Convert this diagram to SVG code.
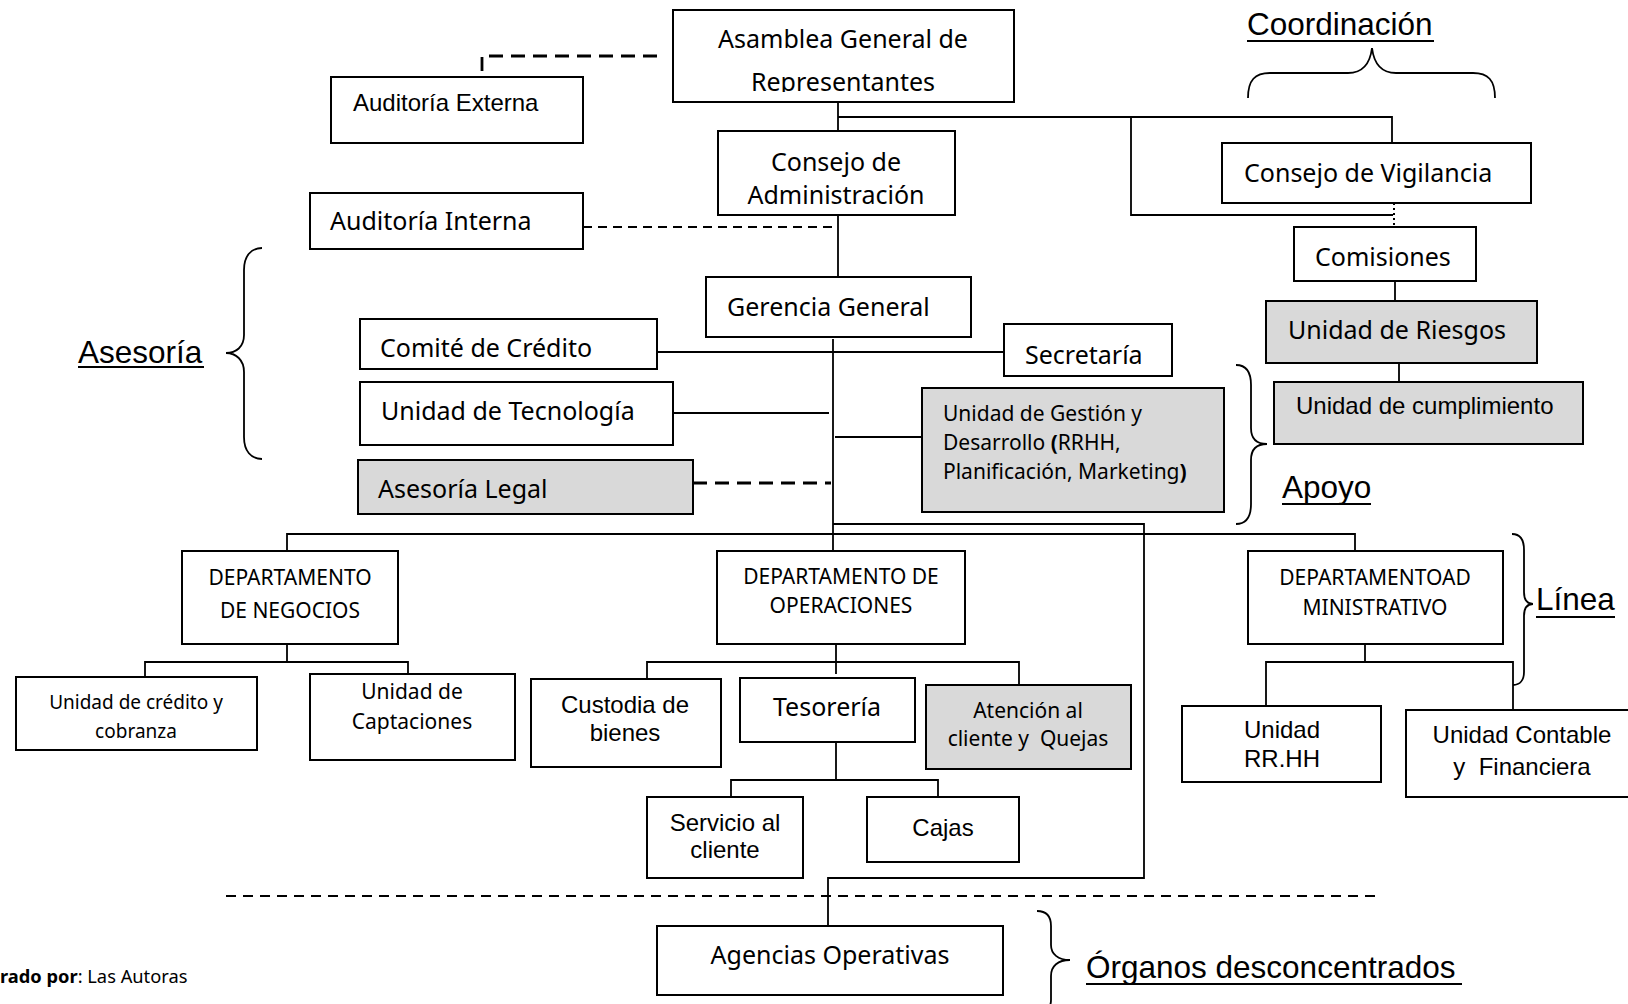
<svg xmlns="http://www.w3.org/2000/svg" width="1628" height="1004" viewBox="0 0 1628 1004">
<style>
.box{fill:#fff;stroke:#000;stroke-width:2}
.gray{fill:#d9d9d9;stroke:#000;stroke-width:2}
.c{font-family:'Noto Sans','Open Sans',sans-serif;font-size:25px;fill:#000}
.c21{font-family:'Noto Sans','Open Sans',sans-serif;font-size:21px;fill:#000}
.c19{font-family:'Noto Sans','Open Sans',sans-serif;font-size:19px;fill:#000}
.a{font-family:'Liberation Sans',Arial,sans-serif;font-size:24px;fill:#000}
.lbl{font-family:'Liberation Sans',Arial,sans-serif;font-size:31.5px;fill:#000}
.mid{text-anchor:middle}
.pre{white-space:pre}
.ln{fill:none;stroke:#000;stroke-width:1.8}
.dash1{fill:none;stroke:#000;stroke-width:2.8;stroke-dasharray:14 8}
.dash2{fill:none;stroke:#000;stroke-width:1.8;stroke-dasharray:9 6}
.dash3{fill:none;stroke:#000;stroke-width:2;stroke-dasharray:10 7}
.dot{fill:none;stroke:#000;stroke-width:2;stroke-dasharray:2 3}
.ul{stroke:#000;stroke-width:2}
.brace{fill:none;stroke:#000;stroke-width:1.8}
</style>
<defs>
<clipPath id="clipAsamblea"><rect x="673" y="10" width="341" height="82"/></clipPath>
</defs>
<rect width="1628" height="1004" fill="#fff"/>

<g id="connectors">
<path class="dash1" d="M482,71 V56 H661"/>
<path class="ln" d="M838,102 V131"/>
<path class="ln" d="M838,117 H1392 V143"/>
<path class="ln" d="M1131,117 V215 H1393"/>
<path class="dot" d="M1394,203 V227"/>
<path class="ln" d="M838,215 V277"/>
<path class="dash2" d="M583,227 H838"/>
<path class="ln" d="M833,339 V551"/>
<path class="ln" d="M657,352 H1004"/>
<path class="ln" d="M673,413 H829"/>
<path class="dash1" d="M693,483 H831"/>
<path class="ln" d="M835,437 H922"/>
<path class="ln" d="M833,524 H1144 V878 H828 V926"/>
<path class="ln" d="M287,551 V534 H1355 V551"/>
<path class="ln" d="M287,643 V662"/>
<path class="ln" d="M145,677 V662 H408 V674"/>
<path class="ln" d="M836,644 V674"/>
<path class="ln" d="M647,679 V662 H1019 V685"/>
<path class="ln" d="M836,742 V780"/>
<path class="ln" d="M731,797 V780 H938 V797"/>
<path class="ln" d="M1365,644 V662"/>
<path class="ln" d="M1266,706 V662 H1513 V710"/>
<path class="ln" d="M1395,281 V301"/>
<path class="ln" d="M1399,363 V382"/>
<path class="dash3" d="M226,896 H1381"/>
</g>

<g id="asamblea">
<rect class="box" x="673" y="10" width="341" height="92"/>
<g clip-path="url(#clipAsamblea)">
<text class="c mid" x="843" y="48">Asamblea General de</text>
<text class="c mid" x="843" y="91">Representantes</text>
</g>
</g>
<g id="auditoria-externa">
<rect class="box" x="331" y="77" width="252" height="66"/>
<text class="a" x="353" y="111">Auditoría Externa</text>
</g>
<g id="consejo-administracion">
<rect class="box" x="718" y="131" width="237" height="84"/>
<text class="c mid" x="836" y="171">Consejo de</text>
<text class="c mid" x="836" y="204">Administración</text>
</g>
<g id="auditoria-interna">
<rect class="box" x="310" y="193" width="273" height="56"/>
<text class="c" x="330" y="230">Auditoría Interna</text>
</g>
<g id="consejo-vigilancia">
<rect class="box" x="1222" y="143" width="309" height="60"/>
<text class="c" x="1244" y="182">Consejo de Vigilancia</text>
</g>
<g id="comisiones">
<rect class="box" x="1294" y="227" width="182" height="54"/>
<text class="c" x="1315" y="266">Comisiones</text>
</g>
<g id="unidad-riesgos">
<rect class="gray" x="1266" y="301" width="271" height="62"/>
<text class="c" x="1288" y="339">Unidad de Riesgos</text>
</g>
<g id="unidad-cumplimiento">
<rect class="gray" x="1274" y="382" width="309" height="62"/>
<text class="a" x="1296" y="414">Unidad de cumplimiento</text>
</g>
<g id="gerencia-general">
<rect class="box" x="706" y="277" width="265" height="60"/>
<text class="c" x="727" y="316">Gerencia General</text>
</g>
<g id="comite-credito">
<rect class="box" x="360" y="319" width="297" height="50"/>
<text class="c" x="380" y="357">Comité de Crédito</text>
</g>
<g id="secretaria">
<rect class="box" x="1004" y="324" width="168" height="52"/>
<text class="c" x="1025" y="364">Secretaría</text>
</g>
<g id="unidad-tecnologia">
<rect class="box" x="360" y="382" width="313" height="63"/>
<text class="c" x="381" y="420">Unidad de Tecnología</text>
</g>
<g id="asesoria-legal">
<rect class="gray" x="358" y="460" width="335" height="54"/>
<text class="c" x="378" y="498">Asesoría Legal</text>
</g>
<g id="unidad-gestion">
<rect class="gray" x="922" y="388" width="302" height="124"/>
<text class="c21" x="943" y="421">Unidad de Gestión y</text>
<text class="c21" x="943" y="450">Desarrollo <tspan font-weight="bold">(</tspan>RRHH,</text>
<text class="c21" x="943" y="479">Planificación, Marketing<tspan font-weight="bold">)</tspan></text>
</g>
<g id="dept-negocios">
<rect class="box" x="182" y="551" width="216" height="93"/>
<text class="c21 mid" x="290" y="585">DEPARTAMENTO</text>
<text class="c21 mid" x="290" y="618">DE NEGOCIOS</text>
</g>
<g id="unidad-credito">
<rect class="box" x="16" y="677" width="241" height="73"/>
<text class="c19 mid" x="136" y="709">Unidad de crédito y</text>
<text class="c19 mid" x="136" y="738">cobranza</text>
</g>
<g id="unidad-captaciones">
<rect class="box" x="310" y="674" width="205" height="86"/>
<text class="c21 mid" x="412" y="699">Unidad de</text>
<text class="c21 mid" x="412" y="729">Captaciones</text>
</g>
<g id="dept-operaciones">
<rect class="box" x="717" y="551" width="248" height="93"/>
<text class="c21 mid" x="841" y="584">DEPARTAMENTO DE</text>
<text class="c21 mid" x="841" y="613">OPERACIONES</text>
</g>
<g id="custodia">
<rect class="box" x="531" y="679" width="190" height="88"/>
<text class="a mid" x="625" y="713">Custodia de</text>
<text class="a mid" x="625" y="741">bienes</text>
</g>
<g id="tesoreria">
<rect class="box" x="740" y="678" width="175" height="64"/>
<text class="c mid" x="827" y="716">Tesorería</text>
</g>
<g id="atencion-cliente">
<rect class="gray" x="926" y="685" width="205" height="84"/>
<text class="c21 mid" x="1028" y="718">Atención al</text>
<text class="c21 mid pre" x="1028" y="746">cliente y  Quejas</text>
</g>
<g id="servicio-cliente">
<rect class="box" x="647" y="797" width="156" height="81"/>
<text class="a mid" x="725" y="831">Servicio al</text>
<text class="a mid" x="725" y="858">cliente</text>
</g>
<g id="cajas">
<rect class="box" x="867" y="797" width="152" height="65"/>
<text class="a mid" x="943" y="836">Cajas</text>
</g>
<g id="dept-administrativo">
<rect class="box" x="1248" y="551" width="255" height="93"/>
<text class="c21 mid" x="1375" y="585">DEPARTAMENTOAD</text>
<text class="c21 mid" x="1375" y="615">MINISTRATIVO</text>
</g>
<g id="unidad-rrhh">
<rect class="box" x="1182" y="706" width="199" height="76"/>
<text class="a mid" x="1282" y="738">Unidad</text>
<text class="a mid" x="1282" y="767">RR.HH</text>
</g>
<g id="unidad-contable">
<rect class="box" x="1406" y="710" width="240" height="87"/>
<text class="a mid" x="1522" y="743">Unidad Contable</text>
<text class="a mid pre" x="1522" y="775">y  Financiera</text>
</g>
<g id="agencias-operativas">
<rect class="box" x="657" y="926" width="346" height="69"/>
<text class="c mid" x="830" y="964">Agencias Operativas</text>
</g>

<g id="braces">
<path class="brace" d="M1248,98 C1248,80 1255,73 1270,73 H1348 C1362,73 1370,64 1372,48 C1374,64 1382,73 1396,73 H1473 C1488,73 1495,80 1495,98"/>
<path class="brace" d="M262,248 C251,248 244,256 244,270 V335 C244,347 236,353 226,353 C236,353 244,360 244,372 V437 C244,451 251,459 262,459"/>
<path class="brace" d="M1236,365 C1246,365 1251,372 1251,385 V428 C1251,438 1256,444 1267,444 C1256,444 1251,450 1251,460 V504 C1251,517 1246,524 1236,524"/>
<path class="brace" d="M1512,534 C1520,534 1524,540 1524,550 V592 C1524,600 1527,604 1533,604 C1527,604 1524,608 1524,616 V672 C1524,680 1520,685 1513,685"/>
<path class="brace" d="M1037,911 C1046,911 1051,916 1051,926 V945 C1051,954 1058,960 1070,960 C1058,960 1051,966 1051,976 V1000 C1051,1008 1046,1012 1037,1012"/>
</g>

<g id="labels">
<text class="lbl" x="1247" y="35">Coordinación</text>
<line class="ul" x1="1247" y1="41" x2="1434" y2="41"/>
<text class="lbl" x="78" y="363" font-size="32.5">Asesoría</text>
<line class="ul" x1="78" y1="367" x2="204" y2="367"/>
<text class="lbl" x="1282" y="498">Apoyo</text>
<line class="ul" x1="1282" y1="504" x2="1371" y2="504"/>
<text class="lbl" x="1536" y="610">Línea</text>
<line class="ul" x1="1536" y1="617" x2="1615" y2="617"/>
<text class="lbl" x="1086" y="978" font-size="33">Órganos desconcentrados</text>
<line class="ul" x1="1086" y1="984" x2="1462" y2="984"/>
<text x="0" y="983" font-family="'Noto Sans','Open Sans',sans-serif" font-size="18.3"><tspan font-weight="bold">rado por</tspan>: Las Autoras</text>
</g>
</svg>
